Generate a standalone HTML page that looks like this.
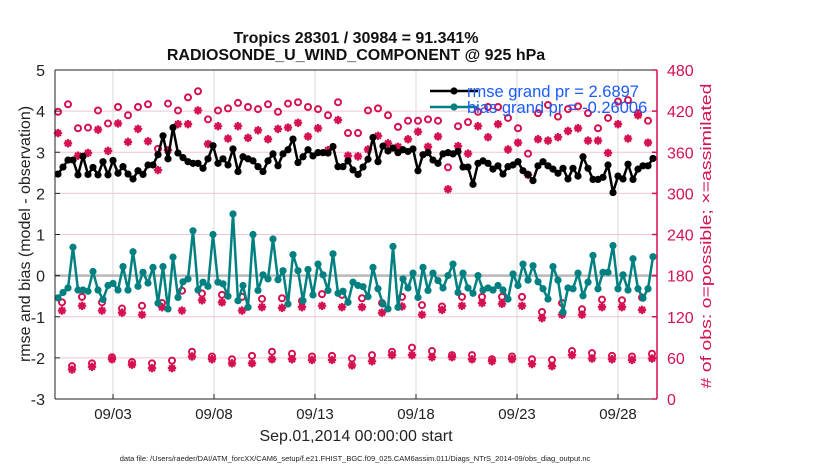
<!DOCTYPE html>
<html><head><meta charset="utf-8"><style>
body{margin:0;background:#fff;font-family:"Liberation Sans",sans-serif}
svg{display:block}
</style></head><body>
<svg id="c" width="830" height="470" xmlns="http://www.w3.org/2000/svg"></svg>
<script>
const rmse=[2.47,2.64,2.81,2.81,2.45,2.9,2.46,2.63,2.45,2.77,2.45,2.8,2.49,2.65,2.47,2.35,2.55,2.46,2.69,2.69,2.94,3.4,2.84,3.6,2.98,2.87,2.77,2.73,2.73,2.61,2.84,3.16,2.73,2.84,2.69,3.08,2.53,2.89,2.84,2.79,2.65,2.53,2.79,2.96,2.67,2.96,3.06,3.32,2.75,2.89,3.06,2.91,2.99,2.99,2.98,3.14,2.65,2.65,2.79,2.57,2.46,
2.64,2.83,3.36,2.77,3.15,3.03,3.1,2.99,3.06,3.02,3.08,2.55,2.94,2.99,2.81,2.73,2.96,2.99,2.96,3.02,2.64,2.64,2.22,2.73,2.79,2.73,2.59,2.67,2.47,2.65,2.69,2.77,2.55,2.46,2.31,2.67,2.77,2.67,2.59,2.49,2.61,2.35,2.61,2.42,2.89,2.61,2.34,2.34,2.39,2.69,2.02,2.42,2.35,2.71,2.34,2.59,2.67,2.67,2.85];
const bias=[-0.54,-0.41,-0.30,0.69,-0.35,-0.35,-0.38,0.10,-0.35,-0.58,-0.24,-0.19,-0.35,0.22,-0.35,0.58,-0.26,0.08,-0.18,0.20,-0.67,0.22,-0.81,0.45,-0.53,-0.15,-0.08,1.09,-0.35,-0.16,-0.26,1.00,-0.16,-0.20,-0.50,1.50,-0.61,-0.24,-0.77,1.00,-0.36,0.02,-0.08,0.89,-0.10,0.12,-0.69,0.51,0.12,-0.61,0.15,-0.47,0.28,0.02,-0.36,0.53,-0.43,-0.38,-0.65,-0.16,-0.24,
-0.27,-0.51,0.20,-0.32,-0.69,-0.81,0.71,-0.77,-0.08,-0.30,0.06,-0.53,0.20,-0.36,0.06,-0.12,-0.30,0.00,0.28,-0.41,0.06,-0.30,-0.43,0.00,-0.35,-0.30,-0.35,-0.24,-0.35,-0.57,0.04,-0.24,0.28,-0.11,0.24,-0.15,-0.32,-0.57,0.22,-0.11,-0.89,-0.30,-0.32,0.06,-0.49,-0.16,0.49,-0.32,0.08,0.08,0.73,-0.32,0.02,-0.35,0.41,-0.32,-0.55,-0.32,0.46];
const topPossible=[419,430,395,396,421,402,426,414,426,430,365,431,421,440,449,408,421,424,432,426,423,430,419,431,433,426,423,414,433,388,388,421,424,414,397,406,406,408,406,338,398,404,419,426,426,410,395,358,417,429,412,423,427,417,395,410,434,436,417,406];
const topAssim=[388,373,355,359,393,362,402,375,394,376,334,363,401,401,421,372,398,380,398,381,392,379,394,396,403,383,395,363,407,355,354,364,384,373,368,379,390,368,383,306,369,358,398,382,401,364,374,327,379,377,382,391,395,377,377,359,401,380,414,374];
const midPossible=[141,149,141,132,136,140,158,154,152,149,146,147,143,153,152,147,140,149,137,135,149,149,149,149,127,140,131,145,144,148];
const midAssim=[129,136,129,126,123,134,129,144,141,129,134,133,134,136,134,134,126,135,123,130,136,140,139,136,118,123,123,134,134,130];
const lowPossible=[48,52,61,54,52,56,69,62,58,63,69,66,62,63,59,64,69,75,70,64,64,58,62,58,57,70,67,63,62,66];
const lowAssim=[43,47,58,50,45,45,62,58,52,52,58,58,57,57,49,55,64,64,61,61,58,55,58,51,48,64,59,58,57,59];
const xTickLabels=['09/03','09/08','09/13','09/18','09/23','09/28'];
const xTickDays=[2.75,7.8,12.85,17.9,22.95,28.0];
const leftTicks=[5,4,3,2,1,0,-1,-2,-3];
const rightTicks=[480,420,360,300,240,180,120,60,0];

const L=55,R=657,T=70,B=399;
const NS='http://www.w3.org/2000/svg';
const svg=document.getElementById('c');
const xd=t=>58+t*20.0;
const yl=v=>T+(5-v)*(B-T)/8;
const yr=v=>B-v*(B-T)/480;
const RED='#d5114f',TEAL='#008080';
function el(tag,a,p){const e=document.createElementNS(NS,tag);for(const k in a)e.setAttribute(k,a[k]);(p||svg).appendChild(e);return e;}

const grid=el('g',{});


rightTicks.forEach(v=>{el('line',{x1:L,x2:R,y1:yr(v),y2:yr(v),stroke:'#f2c6d6','stroke-width':1},grid);});
xTickDays.forEach(d=>{el('line',{x1:xd(d),x2:xd(d),y1:T,y2:B,stroke:'#d8d8d8','stroke-width':1},grid);});
const zl=el('line',{x1:L,x2:R,y1:yl(0),y2:yl(0),stroke:'#b8b8b8','stroke-width':2.5});



function star(x,y,g){const s=4.2;el('path',{d:`M${x-s} ${y}H${x+s}M${x} ${y-s}V${y+s}M${x-s*0.7} ${y-s*0.7}L${x+s*0.7} ${y+s*0.7}M${x-s*0.7} ${y+s*0.7}L${x+s*0.7} ${y-s*0.7}`,stroke:RED,'stroke-width':2.2,fill:'none'},g);}
function circ(x,y,g){el('circle',{cx:x,cy:y,r:3,stroke:RED,'stroke-width':2,fill:'none'},g);}
const og=el('g',{});


topPossible.forEach((v,k)=>circ(xd(k*0.5),yr(v),og));
topAssim.forEach((v,k)=>star(xd(k*0.5),yr(v),og));
midAssim.forEach((v,k)=>star(xd(0.2+k),yr(v),og));
midPossible.forEach((v,k)=>circ(xd(0.2+k),yr(v),og));
lowAssim.forEach((v,k)=>star(xd(0.7+k),yr(v),og));
lowPossible.forEach((v,k)=>circ(xd(0.7+k),yr(v),og));

function series(arr,col,name,step){
  const g=el('g',{});
  
  
  el('polyline',{points:arr.map((v,i)=>xd(i*step)+','+yl(v)).join(' '),fill:'none',stroke:col,'stroke-width':2.5,'stroke-linejoin':'round'},g);
  arr.forEach((v,i)=>el('circle',{cx:xd(i*step),cy:yl(v),r:3.6,fill:col},g));
}
series(rmse,'#000','rmse-series',29.75/(rmse.length-1));
series(bias,TEAL,'bias-series',29.75/(bias.length-1));

const fr=el('g',{});


el('line',{x1:L,x2:R,y1:T,y2:T,stroke:'#222','stroke-width':1},fr);
el('line',{x1:L,x2:R,y1:B,y2:B,stroke:'#222','stroke-width':1},fr);
el('line',{x1:L,x2:L,y1:T,y2:B,stroke:'#222','stroke-width':1},fr);
el('line',{x1:R,x2:R,y1:T,y2:B,stroke:RED,'stroke-width':1.5},fr);

leftTicks.forEach(v=>{
  el('line',{x1:L,x2:L+5,y1:yl(v),y2:yl(v),stroke:'#222'});
  const t=el('text',{x:L-10,y:yl(v)+6,'text-anchor':'end','font-size':16,fill:'#222'});t.textContent=v;
  
  
});
rightTicks.forEach(v=>{
  el('line',{x1:R-5,x2:R,y1:yr(v),y2:yr(v),stroke:RED,'stroke-width':1.5});
  const t=el('text',{x:R+10,y:yr(v)+6,'font-size':16,fill:RED});t.textContent=v;
  
  
});
xTickLabels.forEach((s,i)=>{
  el('line',{x1:xd(xTickDays[i]),x2:xd(xTickDays[i]),y1:B,y2:B-5,stroke:'#222'});
  const t=el('text',{x:xd(xTickDays[i]),y:B+20,'text-anchor':'middle','font-size':15,fill:'#222'});t.textContent=s;
  
  
});
</script>
<div style="position:absolute;left:0;top:0;width:830px;height:470px;pointer-events:none">
<svg width="830" height="470" xmlns="http://www.w3.org/2000/svg">
<text x="356" y="43" text-anchor="middle" font-size="16" font-weight="bold" fill="#111">Tropics 28301 / 30984 = 91.341%</text>
<text x="356" y="60" text-anchor="middle" font-size="16" font-weight="bold" fill="#111">RADIOSONDE_U_WIND_COMPONENT @ 925 hPa</text>
<g>
<line x1="430" x2="478" y1="91" y2="91" stroke="#000" stroke-width="2.5"/><circle cx="454" cy="91" r="3.6" fill="#000"/>
<text x="467" y="97" font-size="16.5" fill="#1a5cff">rmse grand pr = 2.6897</text>
<line x1="430" x2="478" y1="107" y2="107" stroke="#008080" stroke-width="2.5"/><circle cx="454" cy="107" r="3.6" fill="#008080"/>
<text x="467" y="113" font-size="16.5" fill="#1a5cff">bias grand pr = -0.26006</text>
</g>
<text transform="translate(30,234) rotate(-90)" text-anchor="middle" font-size="16" fill="#222">rmse and bias (model - observation)</text>
<text transform="translate(711,236) rotate(-90)" text-anchor="middle" font-size="15" textLength="305" lengthAdjust="spacingAndGlyphs" fill="#d5114f"># of obs: o=possible; ×=assimilated</text>
<text x="356" y="441" text-anchor="middle" font-size="16" fill="#222">Sep.01,2014 00:00:00 start</text>
<text x="355" y="461" text-anchor="middle" font-size="7.5" fill="#222">data file: /Users/raeder/DAI/ATM_forcXX/CAM6_setup/f.e21.FHIST_BGC.f09_025.CAM6assim.011/Diags_NTrS_2014-09/obs_diag_output.nc</text>
</svg></div>
</body></html>
